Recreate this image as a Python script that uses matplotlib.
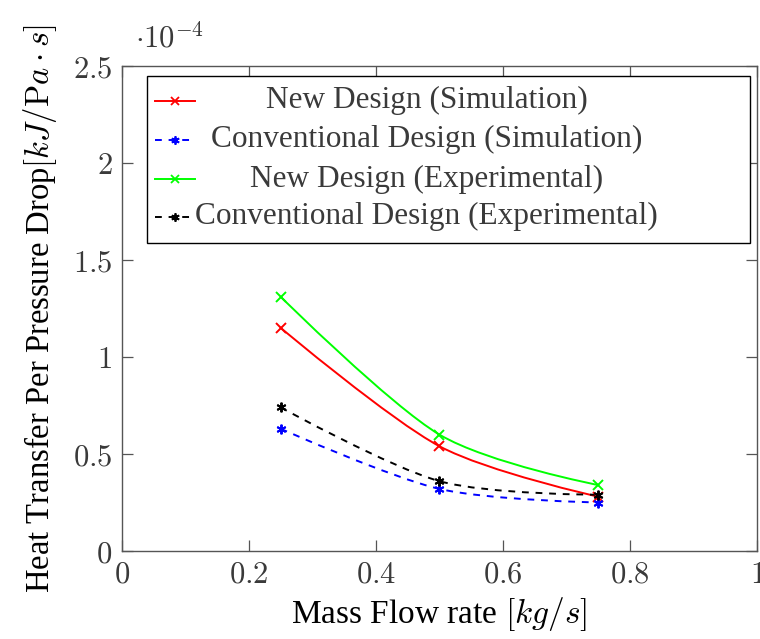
import numpy as np
import matplotlib
matplotlib.use("Agg")
import matplotlib.pyplot as plt
from matplotlib.path import Path
from matplotlib.patches import PathPatch, Rectangle
from matplotlib.lines import Line2D
from matplotlib.ticker import FuncFormatter

# ---------------------------------------------------------------------------
# Data (heat transfer per pressure drop, in units of 1e-4 kJ/(Pa s))
# ---------------------------------------------------------------------------
mass_flow = [0.25, 0.5, 0.75]
new_sim = [1.15, 0.54, 0.28]
conv_sim = [0.63, 0.32, 0.25]
new_exp = [1.31, 0.60, 0.34]
conv_exp = [0.74, 0.36, 0.29]

labels = ["New Design (Simulation)",
          "Conventional Design (Simulation)",
          "New Design (Experimental)",
          "Conventional Design (Experimental)"]

TXT = "#3a3a3a"
plt.rcParams["font.family"] = "Liberation Serif"
plt.rcParams["mathtext.fontset"] = "cm"
plt.rcParams["text.color"] = TXT
plt.rcParams["axes.edgecolor"] = "#555555"

STAR = (6, 2, 0)
styles = [
    dict(color="red", ls="-", marker="x"),
    dict(color="blue", ls=(0, (3.5, 3.5)), marker=STAR),
    dict(color="#00ff00", ls="-", marker="x"),
    dict(color="black", ls=(0, (3.5, 3.5)), marker=STAR),
]
LW = 1.4


def smooth_path(x, y, tension=0.55):
    """Cubic curve through the points, same idea as tikz 'smooth'."""
    p = np.column_stack([x, y]).astype(float)
    n = len(p)
    k = 0.2775 * tension
    verts = [p[0]]
    codes = [Path.MOVETO]
    for i in range(n - 1):
        d0 = p[i + 1] - p[i - 1] if i > 0 else np.zeros(2)
        d1 = p[i + 2] - p[i] if i + 2 < n else np.zeros(2)
        verts += [p[i] + k * d0, p[i + 1] - k * d1, p[i + 1]]
        codes += [Path.CURVE4] * 3
    return Path(verts, codes)


fig = plt.figure(figsize=(7.6, 6.39), dpi=100)
ax = fig.add_axes([0.1605, 0.1377, 0.8355, 0.759])

series = [new_sim, conv_sim, new_exp, conv_exp]
for ys, st in zip(series, styles):
    ax.add_patch(PathPatch(smooth_path(mass_flow, ys), fill=False,
                           edgecolor=st["color"], lw=LW, ls=st["ls"]))
    ax.plot(mass_flow, ys, ls="none", marker=st["marker"], ms=7,
            mew=1.4, color=st["color"])

ax.set_xlim(0, 1)
ax.set_ylim(0, 2.5)
ax.set_xticks([0, 0.2, 0.4, 0.6, 0.8, 1])
ax.set_yticks([0, 0.5, 1, 1.5, 2, 2.5])
ax.xaxis.set_major_formatter(FuncFormatter(lambda v, _: f"${v:g}$"))
ax.yaxis.set_major_formatter(FuncFormatter(lambda v, _: f"${v:g}$"))
ax.tick_params(direction="in", length=8, width=0.9, color="#555555",
               top=True, right=True, labelsize=22, labelcolor=TXT, pad=7)
for s in ax.spines.values():
    s.set_linewidth(1.0)

ax.set_xlabel(r"Mass Flow rate $[kg/s]$", fontsize=24, labelpad=4)
ax.set_ylabel(r"Heat Transfer Per Pressure Drop$[kJ/\mathrm{P}a\cdot s]$",
              fontsize=23.5, labelpad=10)
ax.text(0.02, 1.025, r"$\cdot10^{-4}$", transform=ax.transAxes,
        fontsize=22, ha="left", va="bottom")

# legend box drawn by hand so the labels sit centred next to the handles
ax.add_patch(Rectangle((0.039, 0.635), 0.95, 0.344, transform=ax.transAxes,
                       fill=True, facecolor="white", edgecolor="black",
                       lw=1.0, zorder=5))
row_y = [0.928, 0.848, 0.767, 0.689]
for lab, st, yy in zip(labels, styles, row_y):
    ax.add_line(Line2D([0.052, 0.115], [yy, yy], transform=ax.transAxes,
                       color=st["color"], ls=st["ls"], lw=LW, zorder=6))
    ax.add_line(Line2D([0.0835], [yy], transform=ax.transAxes,
                       color=st["color"], marker=st["marker"], ms=6,
                       mew=1.3, zorder=6))
    ax.text(0.48, yy, lab, transform=ax.transAxes, fontsize=22.5,
            ha="center", va="center", zorder=6)

fig.savefig("out.png", dpi=100)
